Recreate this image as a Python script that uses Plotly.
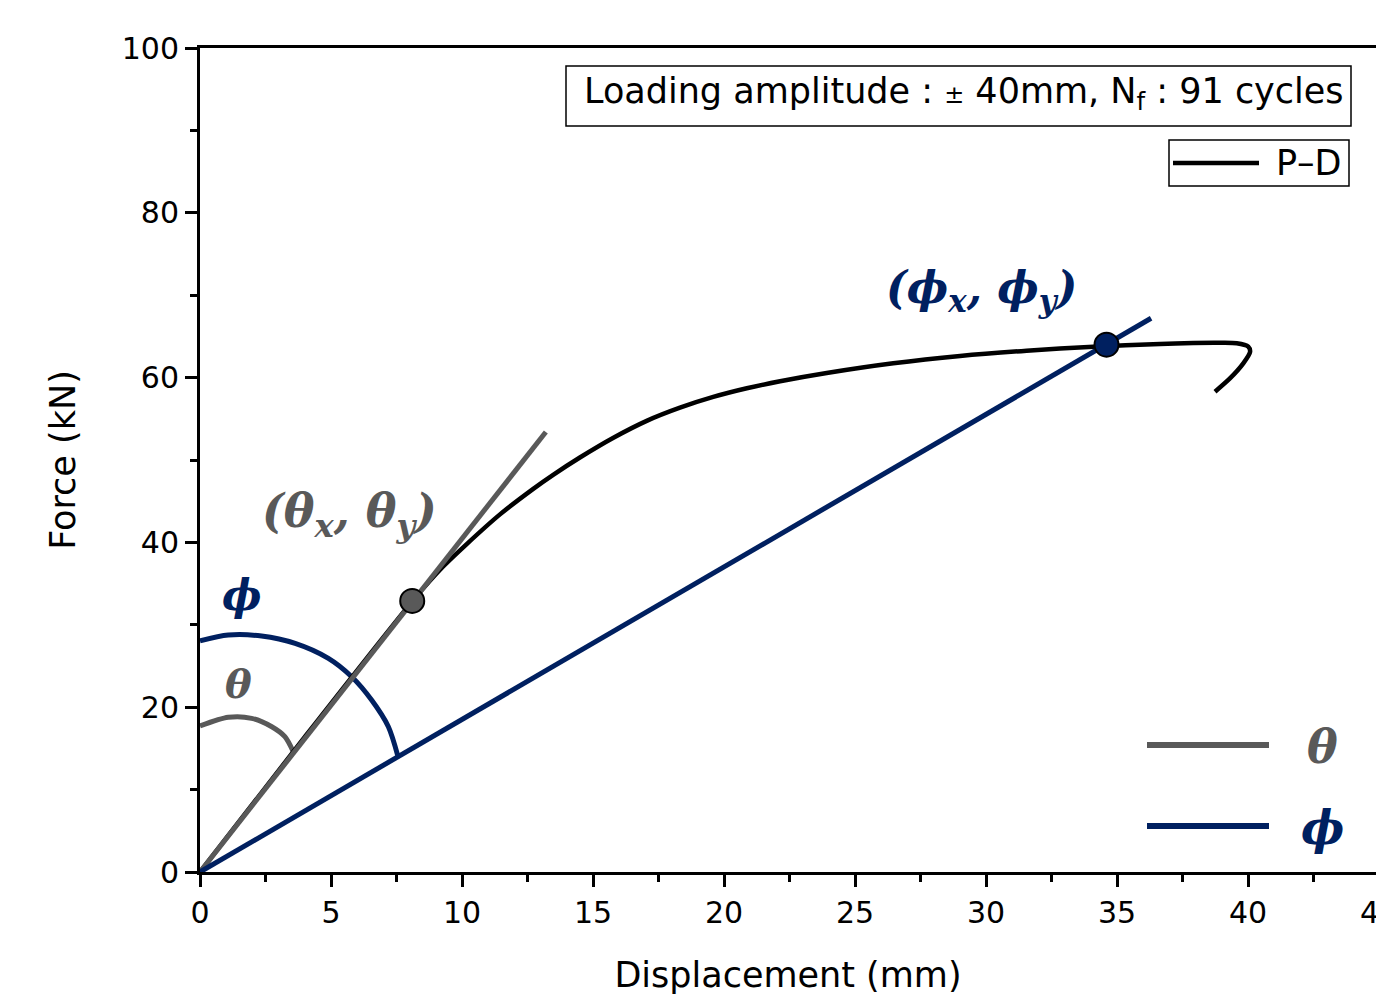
import plotly.graph_objects as go

# ---- data ----
disp = [0, 4, 8.14, 9.29, 10.18, 11.45, 12.72, 13.48, 14.50, 15.78, 17.05, 18.32,
        19.59, 20.87, 22.14, 23.92, 26.46, 29.01, 31.55, 34.10, 36.64, 37.91, 39.0,
        39.57, 40.01, 40.08, 39.82, 39.31, 38.74]
force = [0, 16.4, 33.0, 37.1, 39.8, 43.4, 46.5, 48.2, 50.3, 52.7, 54.75, 56.35,
         57.65, 58.7, 59.55, 60.55, 61.73, 62.62, 63.26, 63.75, 64.08, 64.2, 64.22,
         64.16, 63.75, 63.14, 61.73, 59.9, 58.29]

theta_line_x = [0, 13.2]
theta_line_y = [0, 53.4]
phi_line_x = [0, 36.3]
phi_line_y = [0, 67.2]

theta_pt = (8.1, 32.9)
phi_pt = (34.6, 64.0)

theta_arc_x = [0, 1.08, 1.97, 2.74, 3.24, 3.56]
theta_arc_y = [17.72, 18.77, 18.65, 17.63, 16.42, 14.6]
phi_arc_x = [0, 1.08, 2.35, 3.63, 4.90, 5.79, 6.55, 7.19, 7.55]
phi_arc_y = [28.07, 28.76, 28.64, 27.75, 25.93, 23.70, 20.87, 17.63, 14.1]

x_ticks = [0, 5, 10, 15, 20, 25, 30, 35, 40]
y_ticks = [0, 20, 40, 60, 80, 100]

GREY = "#595959"
NAVY = "#002060"
SANS = "DejaVu Sans"
SERIF = "DejaVu Serif"

fig = go.Figure()

fig.add_trace(go.Scatter(x=theta_arc_x, y=theta_arc_y, mode="lines",
                         line=dict(color=GREY, width=5, shape="spline", smoothing=0.8),
                         showlegend=False))
fig.add_trace(go.Scatter(x=phi_arc_x, y=phi_arc_y, mode="lines",
                         line=dict(color=NAVY, width=5, shape="spline", smoothing=0.8),
                         showlegend=False))
fig.add_trace(go.Scatter(x=disp, y=force, mode="lines",
                         line=dict(color="black", width=4.5, shape="spline", smoothing=0.7),
                         name="P–D", showlegend=False))
fig.add_trace(go.Scatter(x=theta_line_x, y=theta_line_y, mode="lines",
                         line=dict(color=GREY, width=5), showlegend=False))
fig.add_trace(go.Scatter(x=phi_line_x, y=phi_line_y, mode="lines",
                         line=dict(color=NAVY, width=5), showlegend=False))
fig.add_trace(go.Scatter(x=[theta_pt[0]], y=[theta_pt[1]], mode="markers",
                         marker=dict(color=GREY, size=24, line=dict(color="black", width=2)),
                         showlegend=False))
fig.add_trace(go.Scatter(x=[phi_pt[0]], y=[phi_pt[1]], mode="markers",
                         marker=dict(color=NAVY, size=24, line=dict(color="black", width=2)),
                         showlegend=False))

XMAX = 1176 / 26.2

axis_common = dict(showline=True, linecolor="black", linewidth=3,
                   ticks="outside", tickwidth=3, tickcolor="black",
                   showgrid=False, zeroline=False,
                   tickfont=dict(family=SANS, size=30, color="black"))

fig.update_xaxes(range=[0, XMAX], tickvals=x_ticks, ticklen=12, mirror=True,
                 minor=dict(ticks="outside", ticklen=7, tickwidth=3, dtick=2.5, tick0=0,
                            tickcolor="black"),
                 title=dict(text="Displacement (mm)", font=dict(family=SANS, size=35, color="black"),
                            standoff=34),
                 **axis_common)
fig.update_yaxes(range=[0, 100], tickvals=y_ticks, ticklen=12, mirror=False,
                 minor=dict(ticks="outside", ticklen=7, tickwidth=3, dtick=10, tick0=0,
                            tickcolor="black"),
                 title=dict(text="Force (kN)", font=dict(family=SANS, size=35, color="black"),
                            standoff=36),
                 **axis_common)

def px2paper_x(px):
    return (px - 200) / 1176.0

def px2paper_y(py):
    return (872 - py) / 824.0

shapes = []
annotations = []

# Info box
shapes.append(dict(type="rect", xref="paper", yref="paper",
                   x0=px2paper_x(566), x1=px2paper_x(1351), y0=px2paper_y(126), y1=px2paper_y(66),
                   line=dict(color="black", width=1.5), fillcolor="white", layer="above"))
annotations.append(dict(xref="paper", yref="paper", x=px2paper_x(964), y=px2paper_y(94),
                        text="Loading amplitude : <span style='font-size:24px'>±</span> 40mm, N<sub>f</sub> : 91 cycles",
                        showarrow=False, font=dict(family=SANS, size=35, color="black"),
                        xanchor="center", yanchor="middle"))
# P-D legend
shapes.append(dict(type="rect", xref="paper", yref="paper",
                   x0=px2paper_x(1169), x1=px2paper_x(1349), y0=px2paper_y(186), y1=px2paper_y(140),
                   line=dict(color="black", width=1.5), fillcolor="white", layer="above"))
shapes.append(dict(type="line", xref="paper", yref="paper",
                   x0=px2paper_x(1173), x1=px2paper_x(1259), y0=px2paper_y(163), y1=px2paper_y(163),
                   line=dict(color="black", width=4.5), layer="above"))
annotations.append(dict(xref="paper", yref="paper", x=px2paper_x(1309), y=px2paper_y(163),
                        text="P–D", showarrow=False,
                        font=dict(family=SANS, size=35, color="black"),
                        xanchor="center", yanchor="middle"))
# theta / phi legend
shapes.append(dict(type="line", xref="paper", yref="paper",
                   x0=px2paper_x(1147), x1=px2paper_x(1269), y0=px2paper_y(745), y1=px2paper_y(745),
                   line=dict(color=GREY, width=6), layer="above"))
shapes.append(dict(type="line", xref="paper", yref="paper",
                   x0=px2paper_x(1147), x1=px2paper_x(1269), y0=px2paper_y(826), y1=px2paper_y(826),
                   line=dict(color=NAVY, width=6), layer="above"))
annotations.append(dict(xref="paper", yref="paper", x=px2paper_x(1322), y=px2paper_y(747),
                        text="<b><i>θ</i></b>", showarrow=False,
                        font=dict(family=SERIF, size=46, color=GREY),
                        xanchor="center", yanchor="middle"))
annotations.append(dict(xref="paper", yref="paper", x=px2paper_x(1322), y=px2paper_y(828),
                        text="<b><i>ϕ</i></b>", showarrow=False,
                        font=dict(family=SERIF, size=46, color=NAVY),
                        xanchor="center", yanchor="middle"))
# math labels in plot
annotations.append(dict(xref="paper", yref="paper", x=px2paper_x(349), y=px2paper_y(514),
                        text="<b><i>(θ<sub>x</sub>, θ<sub>y</sub>)</i></b>", showarrow=False,
                        font=dict(family=SERIF, size=46, color=GREY),
                        xanchor="center", yanchor="middle"))
annotations.append(dict(xref="paper", yref="paper", x=px2paper_x(981), y=px2paper_y(290),
                        text="<b><i>(ϕ<sub>x</sub>, ϕ<sub>y</sub>)</i></b>", showarrow=False,
                        font=dict(family=SERIF, size=44, color=NAVY),
                        xanchor="center", yanchor="middle"))
annotations.append(dict(xref="paper", yref="paper", x=px2paper_x(242), y=px2paper_y(595),
                        text="<b><i>ϕ</i></b>", showarrow=False,
                        font=dict(family=SERIF, size=42, color=NAVY),
                        xanchor="center", yanchor="middle"))
annotations.append(dict(xref="paper", yref="paper", x=px2paper_x(238), y=px2paper_y(683),
                        text="<b><i>θ</i></b>", showarrow=False,
                        font=dict(family=SERIF, size=40, color=GREY),
                        xanchor="center", yanchor="middle"))
# partially visible 45 tick label at the cut right edge
annotations.append(dict(xref="paper", yref="paper", x=45 / XMAX, y=px2paper_y(912),
                        text="45", showarrow=False,
                        font=dict(family=SANS, size=30, color="black"),
                        xanchor="center", yanchor="middle"))

fig.update_layout(width=1376, height=1000,
                  margin=dict(l=200, r=0, t=48, b=128),
                  plot_bgcolor="white", paper_bgcolor="white",
                  shapes=shapes, annotations=annotations, showlegend=False)

fig.write_html("out.html")
